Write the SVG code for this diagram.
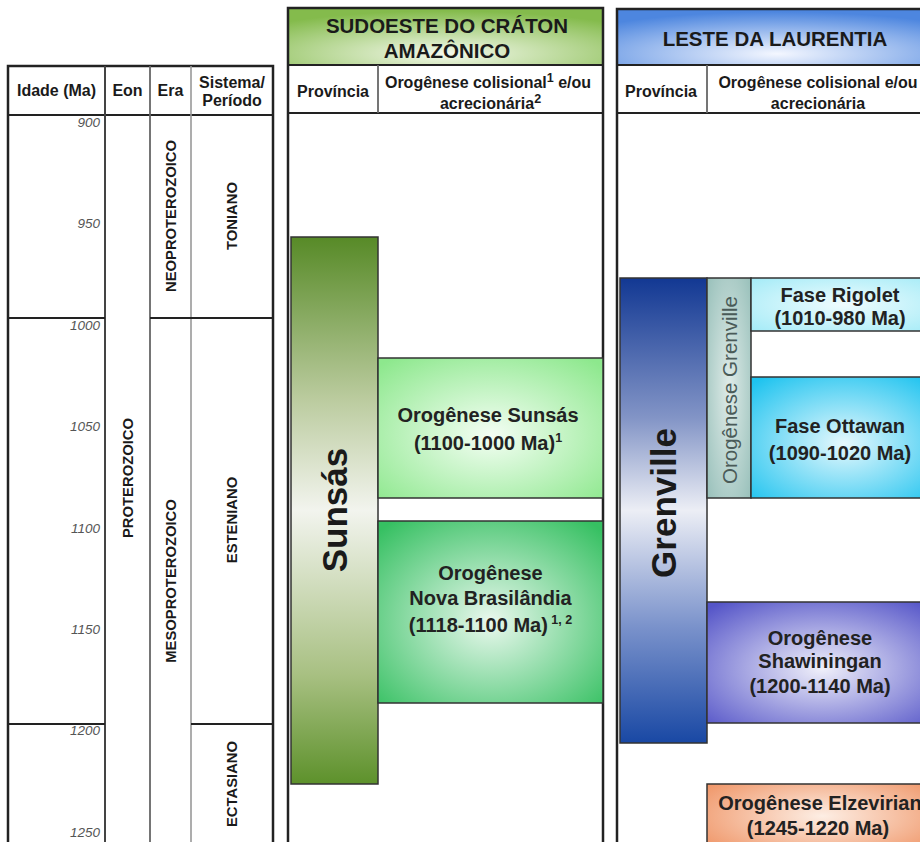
<svg xmlns="http://www.w3.org/2000/svg" width="920" height="842" viewBox="0 0 920 842">
<defs>
<radialGradient id="gTitleGreen" cx="50%" cy="80%" r="75%"><stop offset="0" stop-color="#f4f9ec"/><stop offset="1" stop-color="#84bb4c"/></radialGradient>
<radialGradient id="gTitleBlue" cx="50%" cy="80%" r="75%"><stop offset="0" stop-color="#f4f7ff"/><stop offset="1" stop-color="#4d86df"/></radialGradient>
<linearGradient id="gSunsasBar" x1="0" y1="0" x2="0" y2="1"><stop offset="0" stop-color="#578a27"/><stop offset="0.3" stop-color="#bccca0"/><stop offset="0.5" stop-color="#f2f4ee"/><stop offset="0.8" stop-color="#a8c082"/><stop offset="1" stop-color="#5d912b"/></linearGradient>
<linearGradient id="gGrenBar" x1="0" y1="0" x2="0" y2="1"><stop offset="0" stop-color="#123893"/><stop offset="0.3" stop-color="#8294c6"/><stop offset="0.5" stop-color="#eceef5"/><stop offset="0.75" stop-color="#7a92cb"/><stop offset="1" stop-color="#1948a4"/></linearGradient>
<radialGradient id="gSunsasOro" cx="50%" cy="55%" r="70%"><stop offset="0" stop-color="#f4fef4"/><stop offset="1" stop-color="#8de88d"/></radialGradient>
<radialGradient id="gNovaBras" cx="50%" cy="55%" r="70%"><stop offset="0" stop-color="#eaf8ee"/><stop offset="1" stop-color="#36c062"/></radialGradient>
<radialGradient id="gOroGren" cx="50%" cy="50%" r="70%"><stop offset="0" stop-color="#dfebe8"/><stop offset="1" stop-color="#98c0ba"/></radialGradient>
<radialGradient id="gRigolet" cx="50%" cy="50%" r="70%"><stop offset="0" stop-color="#effcfe"/><stop offset="1" stop-color="#a4ebf7"/></radialGradient>
<radialGradient id="gOttawan" cx="50%" cy="55%" r="70%"><stop offset="0" stop-color="#e6f8fd"/><stop offset="1" stop-color="#1ec3ef"/></radialGradient>
<radialGradient id="gShaw" cx="50%" cy="55%" r="70%"><stop offset="0" stop-color="#f0f0fa"/><stop offset="1" stop-color="#5555c8"/></radialGradient>
<radialGradient id="gElz" cx="50%" cy="40%" r="70%"><stop offset="0" stop-color="#fdeee4"/><stop offset="1" stop-color="#ee8c5a"/></radialGradient>
</defs>
<style>
text{font-family:"Liberation Sans",Arial,sans-serif;fill:#1a1a1a}
.hd{font-size:16px;font-weight:bold;text-anchor:middle}
.ttl{font-size:20.5px;font-weight:bold;text-anchor:middle}
.age{font-size:13.5px;font-style:italic;fill:#555;text-anchor:end}
.rot{font-size:14.8px;font-weight:bold;text-anchor:middle}
.big{font-size:35px;font-weight:bold;text-anchor:middle}
.bx{font-size:20px;font-weight:bold;text-anchor:middle;fill:#222}
.sup{font-size:12.5px}
.frame{fill:none;stroke:#222;stroke-width:2.5}
.hline{stroke:#222;stroke-width:2}
.col1{stroke:#444;stroke-width:2}
.col2{stroke:#666;stroke-width:1.8}
.col3{stroke:#999;stroke-width:1.6}
.box{stroke:#333;stroke-width:1.5}
</style>
<rect width="920" height="842" fill="#ffffff"/>

<g id="tabela-tempo">
<rect class="frame" x="8" y="66" width="265" height="790" fill="#fff"/>
<line class="hline" x1="8" y1="115" x2="273" y2="115"/>
<line class="col1" x1="105" y1="66" x2="105" y2="842"/>
<line class="col2" x1="150" y1="66" x2="150" y2="842"/>
<line class="col3" x1="191" y1="66" x2="191" y2="842"/>
<line class="hline" x1="8" y1="318" x2="105" y2="318"/>
<line class="hline" x1="150" y1="318" x2="273" y2="318"/>
<line class="hline" x1="8" y1="724" x2="105" y2="724"/>
<line class="hline" x1="191" y1="724" x2="273" y2="724"/>
<text class="hd" x="56.5" y="96">Idade (Ma)</text>
<text class="hd" x="127.5" y="96">Eon</text>
<text class="hd" x="170.5" y="96">Era</text>
<text class="hd" x="232" y="88">Sistema/</text>
<text class="hd" x="232" y="106">Período</text>
<text class="age" x="100" y="127">900</text>
<text class="age" x="100" y="228">950</text>
<text class="age" x="100" y="330">1000</text>
<text class="age" x="100" y="431">1050</text>
<text class="age" x="100" y="533">1100</text>
<text class="age" x="100" y="634">1150</text>
<text class="age" x="100" y="735">1200</text>
<text class="age" x="100" y="837">1250</text>
<text class="rot" transform="translate(132.5,478) rotate(-90)">PROTEROZOICO</text>
<text class="rot" transform="translate(175.5,216) rotate(-90)">NEOPROTEROZOICO</text>
<text class="rot" transform="translate(175.5,581) rotate(-90)">MESOPROTEROZOICO</text>
<text class="rot" transform="translate(236.5,216) rotate(-90)">TONIANO</text>
<text class="rot" transform="translate(236.5,520) rotate(-90)">ESTENIANO</text>
<text class="rot" transform="translate(236.5,784) rotate(-90)">ECTASIANO</text>
</g>

<g id="sudoeste-craton">
<rect x="288" y="8" width="315" height="57" fill="url(#gTitleGreen)"/>
<rect class="frame" x="288" y="8" width="315" height="850" fill="none"/>
<line class="hline" x1="288" y1="65" x2="603" y2="65"/>
<line class="hline" x1="288" y1="113" x2="603" y2="113"/>
<line class="col2" x1="378" y1="65" x2="378" y2="113"/>
<text class="ttl" x="447" y="33">SUDOESTE DO CRÁTON</text>
<text class="ttl" x="447" y="58">AMAZÔNICO</text>
<text class="hd" x="333" y="97">Província</text>
<text class="hd" x="488" y="88">Orogênese colisional<tspan class="sup" dy="-6">1</tspan><tspan dy="6"> e/ou</tspan></text>
<text class="hd" x="490.5" y="109">acrecionária<tspan class="sup" dy="-6">2</tspan></text>
</g>

<g id="sunsas">
<rect class="box" x="291" y="237" width="87" height="547" fill="url(#gSunsasBar)"/>
<text class="big" transform="translate(347,510) rotate(-90)">Sunsás</text>
</g>

<g id="orogenese-sunsas">
<rect class="box" x="378" y="358" width="225" height="140" fill="url(#gSunsasOro)"/>
<text class="bx" x="488" y="422">Orogênese Sunsás</text>
<text class="bx" x="488" y="450">(1100-1000 Ma)<tspan class="sup" dy="-8">1</tspan></text>
</g>

<g id="orogenese-nova-brasilandia">
<rect class="box" x="378" y="521" width="225" height="182" fill="url(#gNovaBras)"/>
<text class="bx" x="490.5" y="580">Orogênese</text>
<text class="bx" x="490.5" y="605">Nova Brasilândia</text>
<text class="bx" x="490.5" y="632">(1118-1100 Ma)<tspan class="sup" dy="-8"> 1, 2</tspan></text>
</g>

<g id="leste-laurentia">
<rect x="617" y="9" width="320" height="56" fill="url(#gTitleBlue)"/>
<rect class="frame" x="617" y="9" width="320" height="850" fill="none"/>
<line class="hline" x1="617" y1="65" x2="937" y2="65"/>
<line class="hline" x1="617" y1="113" x2="937" y2="113"/>
<line class="col2" x1="707" y1="65" x2="707" y2="113"/>
<text class="ttl" x="775" y="46">LESTE DA LAURENTIA</text>
<text class="hd" x="661" y="97">Província</text>
<text class="hd" x="818" y="88">Orogênese colisional e/ou</text>
<text class="hd" x="818" y="109">acrecionária</text>
</g>

<g id="grenville">
<rect class="box" x="620" y="278" width="87" height="465" fill="url(#gGrenBar)"/>
<text class="big" transform="translate(676,503) rotate(-90)">Grenville</text>
</g>

<g id="orogenese-grenville">
<rect class="box" x="707" y="278" width="44" height="220" fill="url(#gOroGren)"/>
<text transform="translate(737,390) rotate(-90)" style="font-size:20.5px;text-anchor:middle;fill:#4a5b58">Orogênese Grenville</text>
</g>

<g id="fase-rigolet">
<rect class="box" x="751" y="278" width="186" height="53" fill="url(#gRigolet)"/>
<text class="bx" x="840" y="302">Fase Rigolet</text>
<text class="bx" x="840" y="325">(1010-980 Ma)</text>
</g>

<g id="fase-ottawan">
<rect class="box" x="751" y="377" width="186" height="121" fill="url(#gOttawan)"/>
<text class="bx" x="840" y="433">Fase Ottawan</text>
<text class="bx" x="840" y="460">(1090-1020 Ma)</text>
</g>

<g id="orogenese-shawiningan">
<rect class="box" x="707" y="602" width="230" height="121" fill="url(#gShaw)"/>
<text class="bx" x="820" y="645">Orogênese</text>
<text class="bx" x="820" y="668">Shawiningan</text>
<text class="bx" x="820" y="693">(1200-1140 Ma)</text>
</g>

<g id="orogenese-elzevirian">
<rect class="box" x="707" y="784" width="230" height="80" fill="url(#gElz)"/>
<text class="bx" x="820" y="810">Orogênese Elzevirian</text>
<text class="bx" x="818" y="835">(1245-1220 Ma)</text>
</g>

<g id="connectors"></g>
</svg>
